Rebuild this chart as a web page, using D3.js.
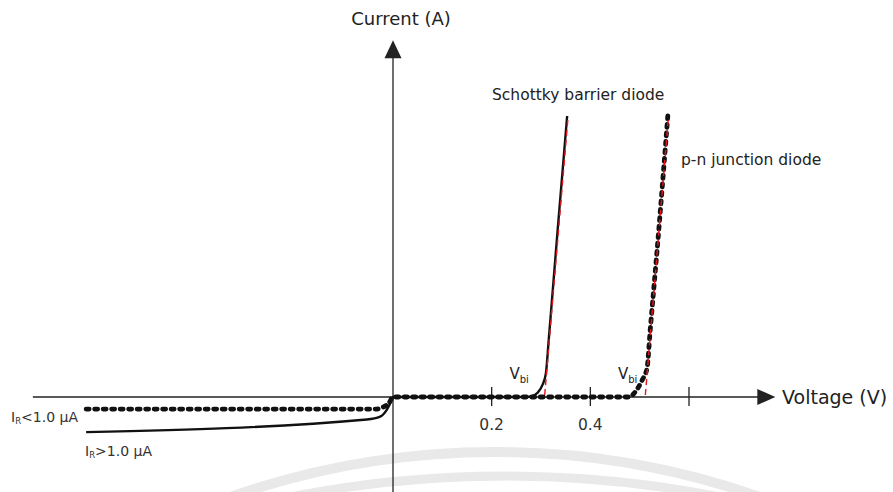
<!DOCTYPE html>
<html>
<head>
<meta charset="utf-8">
<script src="https://cdn.jsdelivr.net/npm/d3@7"></script>
<style>
  body { margin: 0; background: #fff; }
  svg { display: block; font-family: "DejaVu Sans", sans-serif; }
</style>
</head>
<body>
<svg id="chart"></svg>
<script>
// voltage (V) and current (arbitrary units)
const schottkyV = [-0.622, -0.053, -0.026, -0.0127, -0.0026, 0, 0.27, 0.282, 0.293, 0.303, 0.31, 0.3155, 0.334, 0.353];
const schottkyI = [-1.25, -0.8, -0.7, -0.46, -0.11, 0, 0, 0.03, 0.15, 0.43, 0.85, 2, 6, 10];

const pnV = [-0.622, -0.036, -0.02, -0.008, 0, 0.48, 0.489, 0.505, 0.515, 0.521, 0.539, 0.557];
const pnI = [-0.43, -0.43, -0.36, -0.21, 0, 0, 0.14, 0.6, 1.03, 2.3, 6, 10];

// tangent lines (Vbi extrapolation)
const tangentSchottkyV = [0.3075, 0.355];
const tangentSchottkyI = [0.07, 10];
const tangentPnV = [0.5115, 0.5585];
const tangentPnI = [0.07, 10];

const tickValues = [0.2, 0.4, 0.6];
const tickLabels = ["0.2", "0.4", ""];
const axisV = [-0.73, 0.775];
const axisI = [-3.4, 12.7];

const width = 893, height = 492;
const svg = d3.select("#chart").attr("width", width).attr("height", height);

const x = d3.scaleLinear().domain([0, 0.6]).range([393, 689]);
const y = d3.scaleLinear().domain([0, 10]).range([397, 116]);

// faint watermark arcs in the background
const wm = svg.append("g").attr("fill", "none").attr("stroke", "#e9e9e9");
wm.append("circle").attr("cx", 495).attr("cy", 452 + 800).attr("r", 800).attr("stroke-width", 10);
wm.append("circle").attr("cx", 505).attr("cy", 476 + 1100).attr("r", 1100).attr("stroke-width", 9);

const axisColor = "#222";
// x axis
svg.append("line")
    .attr("x1", x(axisV[0])).attr("x2", x(axisV[1]) - 16)
    .attr("y1", y(0)).attr("y2", y(0))
    .attr("stroke", axisColor).attr("stroke-width", 1.3);
svg.append("path")
    .attr("d", `M${x(axisV[1])},${y(0)} L${x(axisV[1]) - 18},${y(0) - 8} L${x(axisV[1]) - 18},${y(0) + 8} Z`)
    .attr("fill", axisColor);
// y axis
svg.append("line")
    .attr("x1", x(0)).attr("x2", x(0))
    .attr("y1", y(axisI[0])).attr("y2", y(axisI[1]) + 16)
    .attr("stroke", axisColor).attr("stroke-width", 1.3);
svg.append("path")
    .attr("d", `M${x(0)},${y(axisI[1])} L${x(0) - 8.5},${y(axisI[1]) + 18} L${x(0) + 8.5},${y(axisI[1]) + 18} Z`)
    .attr("fill", axisColor);

// ticks
let ticks = svg.append("g").selectAll("g").data(tickValues).enter().append("g");
ticks.append("line")
    .attr("x1", d => x(d)).attr("x2", d => x(d))
    .attr("y1", y(0) - 10).attr("y2", y(0) + 9)
    .attr("stroke", axisColor).attr("stroke-width", 1.3);
ticks.append("text")
    .attr("x", d => x(d)).attr("y", y(0) + 33)
    .attr("text-anchor", "middle")
    .attr("font-size", 15.5).attr("fill", "#333")
    .text((d, i) => tickLabels[i]);

const line = d3.line().x(d => x(d[0])).y(d => y(d[1])).curve(d3.curveMonotoneX);

let schottky = schottkyV.map((v, i) => [v, schottkyI[i]]);
let pn = pnV.map((v, i) => [v, pnI[i]]);

svg.append("path")
    .datum(schottky)
    .attr("d", line)
    .attr("fill", "none").attr("stroke", "#111").attr("stroke-width", 2.4);

svg.append("path")
    .datum(pn)
    .attr("d", line)
    .attr("fill", "none").attr("stroke", "#111").attr("stroke-width", 4.8)
    .attr("stroke-linecap", "round")
    .attr("stroke-dasharray", "3 5.5");

let tline = d3.line().x(d => x(d[0])).y(d => y(d[1]));
[[tangentSchottkyV, tangentSchottkyI], [tangentPnV, tangentPnI]].forEach(([vs, is]) => {
    svg.append("path")
        .datum(vs.map((v, i) => [v, is[i]]))
        .attr("d", tline)
        .attr("fill", "none").attr("stroke", "#e8141c").attr("stroke-width", 1.4)
        .attr("stroke-dasharray", "6 4");
});

// labels
const txt = (tx, ty, s, size, anchor) => svg.append("text")
    .attr("x", tx).attr("y", ty).attr("font-size", size)
    .attr("fill", "#222").attr("text-anchor", anchor || "start").text(s);

txt(401, 25, "Current (A)", 18, "middle");
txt(782, 404, "Voltage (V)", 19);
txt(492, 100, "Schottky barrier diode", 15.5);
txt(681, 165, "p-n junction diode", 15.5);

const vbi = (tx) => {
    let t = svg.append("text").attr("x", tx).attr("y", 379).attr("font-size", 15).attr("fill", "#222");
    t.append("tspan").text("V");
    t.append("tspan").attr("font-size", 10).attr("dy", 4).text("bi");
};
vbi(x(0.236));
vbi(x(0.456));

const irLabel = (tx, ty, s) => {
    let t = svg.append("text").attr("x", tx).attr("y", ty).attr("font-size", 14).attr("fill", "#333");
    t.append("tspan").text("I");
    t.append("tspan").attr("font-size", 8.5).attr("dy", 2).text("R");
    t.append("tspan").attr("dy", -2).text(s);
};
irLabel(11, 422, "<1.0 μA");
irLabel(85, 456, ">1.0 μA");
</script>
</body>
</html>
